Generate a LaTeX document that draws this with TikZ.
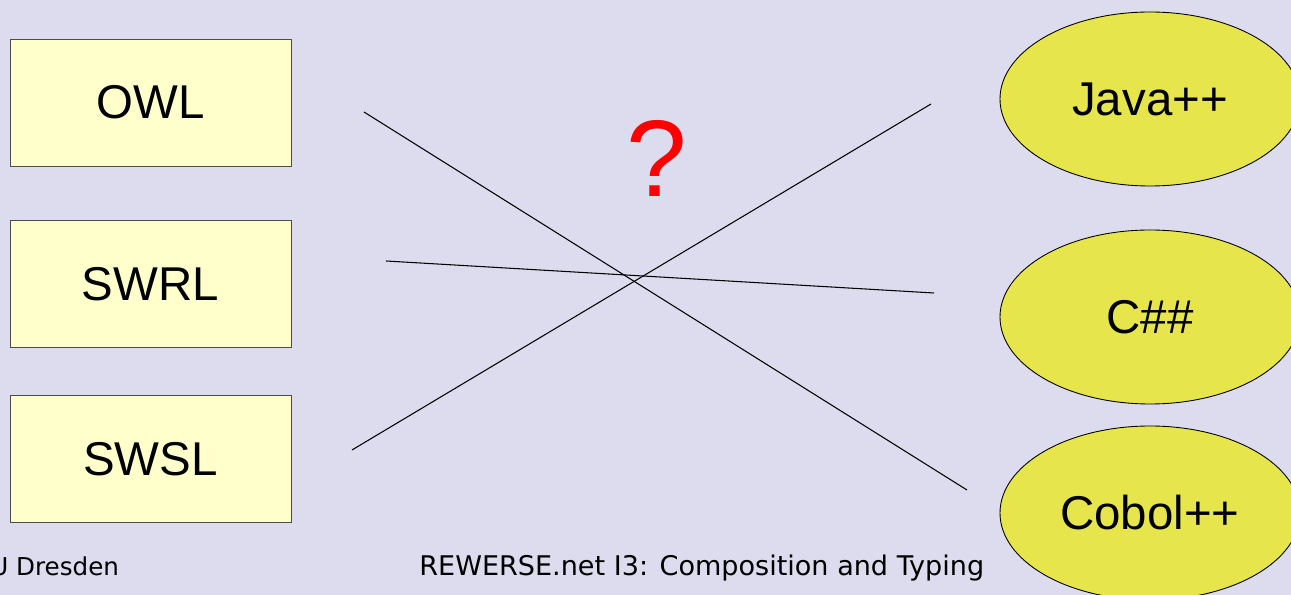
\documentclass[tikz,border=0pt]{standalone}
\usepackage{fontspec}
\setmainfont{Liberation Sans}
\newfontfamily\footfont{DejaVu Sans}
\usetikzlibrary{positioning, shapes.geometric}
\definecolor{slidebg}{RGB}{220,220,238}
\definecolor{langbox}{RGB}{255,255,204}
\definecolor{targetfill}{RGB}{230,230,76}

\begin{document}
\begin{tikzpicture}[node distance=1.08cm, 
		lang/.style={rectangle, draw=black!70, fill=langbox, line width=0.5pt, minimum width=5.62cm, minimum height=2.54cm, align=center, font=\fontsize{27}{30}\selectfont},
		target/.style={ellipse, draw=black, fill=targetfill, line width=0.5pt, minimum width=6cm, minimum height=3.48cm, inner sep=0pt, font=\fontsize{27}{30}\selectfont},
		cross/.style={line width=0.6pt, color=black}]
		
		\fill[slidebg] (0,0) rectangle (25.82,-11.9);
		\useasboundingbox (0,0) rectangle (25.82,-11.9);
		
		\node[lang] (owl) at (3.01,-2.05) {OWL};
		\node[lang, below=1.08cm of owl] (swrl) {SWRL};
		\node[lang, below=0.94cm of swrl] (swsl) {SWSL};
		
		\node[target] (java) at (23,-1.98) {Java++};
		\node[target] (csharp) at (23,-6.34) {C\#\#};
		\node[target] (cobol) at (23,-10.26) {Cobol++};
		
		\node[anchor=base, text=red, font=\fontsize{62}{64}\selectfont] (quest) at (13.14,-3.94) {?};
		
		\coordinate (a1) at (7.28,-2.24);
		\coordinate (a2) at (19.34,-9.80);
		\coordinate (b1) at (7.04,-9.00);
		\coordinate (b2) at (18.62,-2.08);
		\coordinate (c1) at (7.72,-5.22);
		\coordinate (c2) at (18.68,-5.86);
		
		\draw[cross] (a1) -- (a2);
		\draw[cross] (b1) -- (b2);
		\draw[cross] (c1) -- (c2);
		
		\node[anchor=base west, inner sep=0pt, font=\footfont\fontsize{14}{16}\selectfont] (place) at (-0.2,-11.52) {U Dresden};
		\node[anchor=base west, inner sep=0pt, font=\footfont\fontsize{15.4}{17}\selectfont] (title) at (8.38,-11.52) {REWERSE.net I3: Composition and Typing};
	\end{tikzpicture}
\end{document}
